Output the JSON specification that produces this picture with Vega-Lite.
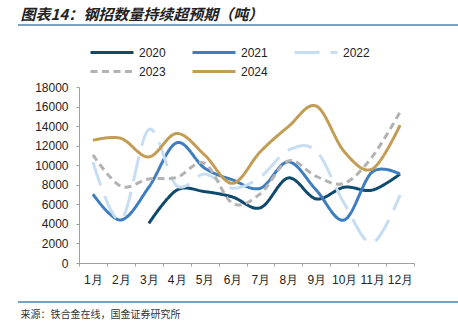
{
  "$schema": "https://vega.github.io/schema/vega-lite/v6.json",
  "width": 335,
  "height": 176,
  "autosize": "none",
  "padding": {"left": 79, "top": 87, "right": 44, "bottom": 63},
  "background": "white",
  "config": {
    "view": {"stroke": null},
    "font": "Liberation Sans"
  },
  "datasets": {
    "series": [
      {"m": "3月", "year": "2020", "v": 4050},
      {"m": "4月", "year": "2020", "v": 7450},
      {"m": "5月", "year": "2020", "v": 7300},
      {"m": "6月", "year": "2020", "v": 6750},
      {"m": "7月", "year": "2020", "v": 5650},
      {"m": "8月", "year": "2020", "v": 8700},
      {"m": "9月", "year": "2020", "v": 6550},
      {"m": "10月", "year": "2020", "v": 7750},
      {"m": "11月", "year": "2020", "v": 7450},
      {"m": "12月", "year": "2020", "v": 9100},
      {"m": "1月", "year": "2021", "v": 7050},
      {"m": "2月", "year": "2021", "v": 4400},
      {"m": "3月", "year": "2021", "v": 7750},
      {"m": "4月", "year": "2021", "v": 12300},
      {"m": "5月", "year": "2021", "v": 9700},
      {"m": "6月", "year": "2021", "v": 8500},
      {"m": "7月", "year": "2021", "v": 7650},
      {"m": "8月", "year": "2021", "v": 10350},
      {"m": "9月", "year": "2021", "v": 7450},
      {"m": "10月", "year": "2021", "v": 4400},
      {"m": "11月", "year": "2021", "v": 9300},
      {"m": "12月", "year": "2021", "v": 9100},
      {"m": "1月", "year": "2022", "v": 10350},
      {"m": "2月", "year": "2022", "v": 4400},
      {"m": "3月", "year": "2022", "v": 13650},
      {"m": "4月", "year": "2022", "v": 7900},
      {"m": "5月", "year": "2022", "v": 9100},
      {"m": "6月", "year": "2022", "v": 7650},
      {"m": "7月", "year": "2022", "v": 8800},
      {"m": "8月", "year": "2022", "v": 11550},
      {"m": "9月", "year": "2022", "v": 11450},
      {"m": "10月", "year": "2022", "v": 6100},
      {"m": "11月", "year": "2022", "v": 2050},
      {"m": "12月", "year": "2022", "v": 6950},
      {"m": "1月", "year": "2023", "v": 11050},
      {"m": "2月", "year": "2023", "v": 7850},
      {"m": "3月", "year": "2023", "v": 8600},
      {"m": "4月", "year": "2023", "v": 8750},
      {"m": "5月", "year": "2023", "v": 10200},
      {"m": "6月", "year": "2023", "v": 6100},
      {"m": "7月", "year": "2023", "v": 7100},
      {"m": "8月", "year": "2023", "v": 10450},
      {"m": "9月", "year": "2023", "v": 8850},
      {"m": "10月", "year": "2023", "v": 8150},
      {"m": "11月", "year": "2023", "v": 10850},
      {"m": "12月", "year": "2023", "v": 15450},
      {"m": "1月", "year": "2024", "v": 12550},
      {"m": "2月", "year": "2024", "v": 12750},
      {"m": "3月", "year": "2024", "v": 10850},
      {"m": "4月", "year": "2024", "v": 13250},
      {"m": "5月", "year": "2024", "v": 11050},
      {"m": "6月", "year": "2024", "v": 8150},
      {"m": "7月", "year": "2024", "v": 11400},
      {"m": "8月", "year": "2024", "v": 13950},
      {"m": "9月", "year": "2024", "v": 16050},
      {"m": "10月", "year": "2024", "v": 11400},
      {"m": "11月", "year": "2024", "v": 9600},
      {"m": "12月", "year": "2024", "v": 14100}
    ],
    "deco": [{"d": 1}]
  },
  "layer": [
    {
      "data": {"name": "series"},
      "mark": {"type": "line", "interpolate": "cardinal", "strokeWidth": 3, "strokeCap": "butt"},
      "encoding": {
        "x": {
          "field": "m",
          "type": "ordinal",
          "bandPosition": 0.5,
          "sort": ["1月","2月","3月","4月","5月","6月","7月","8月","9月","10月","11月","12月"],
          "scale": {"type": "band", "paddingInner": 0, "paddingOuter": 0},
          "axis": {
            "title": "来源：铁合金在线，国金证券研究所",
            "titleFont": "Noto Sans CJK SC",
            "titleFontSize": 10,
            "titleFontWeight": "normal",
            "titleColor": "#333333",
            "titleAnchor": "start",
            "titleAlign": "left",
            "titleBaseline": "middle",
            "titleX": -59,
            "titleY": 51,
            "labelAngle": 0,
            "labelFont": "Liberation Sans",
            "labelFontSize": 12,
            "labelColor": "#222222",
            "labelPadding": 8,
            "tickBand": "extent",
            "tickSize": 3,
            "tickColor": "#A0A0A0",
            "domainColor": "#A0A0A0",
            "grid": false
          }
        },
        "y": {
          "field": "v",
          "type": "quantitative",
          "scale": {"domain": [0, 18000], "nice": false},
          "axis": {
            "title": "图表14：钢招数量持续超预期（吨）",
            "titleFont": "Noto Sans CJK SC",
            "titleFontSize": 15,
            "titleFontWeight": "bold",
            "titleFontStyle": "italic",
            "titleColor": "#222222",
            "titleAngle": 0,
            "titleAnchor": "start",
            "titleAlign": "left",
            "titleBaseline": "middle",
            "titleX": -59,
            "titleY": -73,
            "values": [0,2000,4000,6000,8000,10000,12000,14000,16000,18000],
            "labelFont": "Liberation Sans",
            "labelFontSize": 12,
            "labelColor": "#222222",
            "labelPadding": 8,
            "tickSize": 3,
            "tickColor": "#A0A0A0",
            "domainColor": "#A0A0A0",
            "grid": false,
            "format": "d"
          }
        },
        "color": {
          "field": "year",
          "type": "nominal",
          "scale": {
            "domain": ["2020","2021","2022","2023","2024"],
            "range": ["#0E4A6E","#3E7DC0","#C7DDF2","#B3B3B3","#C29D55"]
          },
          "legend": {
            "title": null,
            "orient": "none",
            "legendX": 10,
            "legendY": -42,
            "direction": "horizontal",
            "columns": 3,
            "columnPadding": 25,
            "rowPadding": 4,
            "padding": 0,
            "clipHeight": 15,
            "symbolType": "stroke",
            "symbolSize": 1849,
            "symbolStrokeWidth": 3,
            "labelFont": "Liberation Sans",
            "labelFontSize": 12,
            "labelColor": "#222222",
            "labelOffset": 4
          }
        },
        "strokeDash": {
          "field": "year",
          "type": "nominal",
          "scale": {
            "domain": ["2020","2021","2022","2023","2024"],
            "range": [[1,0],[1,0],[25,11],[7,4.5],[1,0]]
          },
          "legend": null
        }
      }
    },
    {
      "data": {"name": "deco"},
      "mark": {"type": "rule", "color": "#4F82AA", "strokeWidth": 1.5, "clip": false},
      "encoding": {
        "x": {"value": -61},
        "x2": {"value": 379},
        "y": {"value": -62}
      }
    },
    {
      "data": {"name": "deco"},
      "mark": {"type": "rule", "color": "#4F82AA", "strokeWidth": 1.5, "clip": false},
      "encoding": {
        "x": {"value": -61},
        "x2": {"value": 379},
        "y": {"value": 215}
      }
    }
  ]
}
